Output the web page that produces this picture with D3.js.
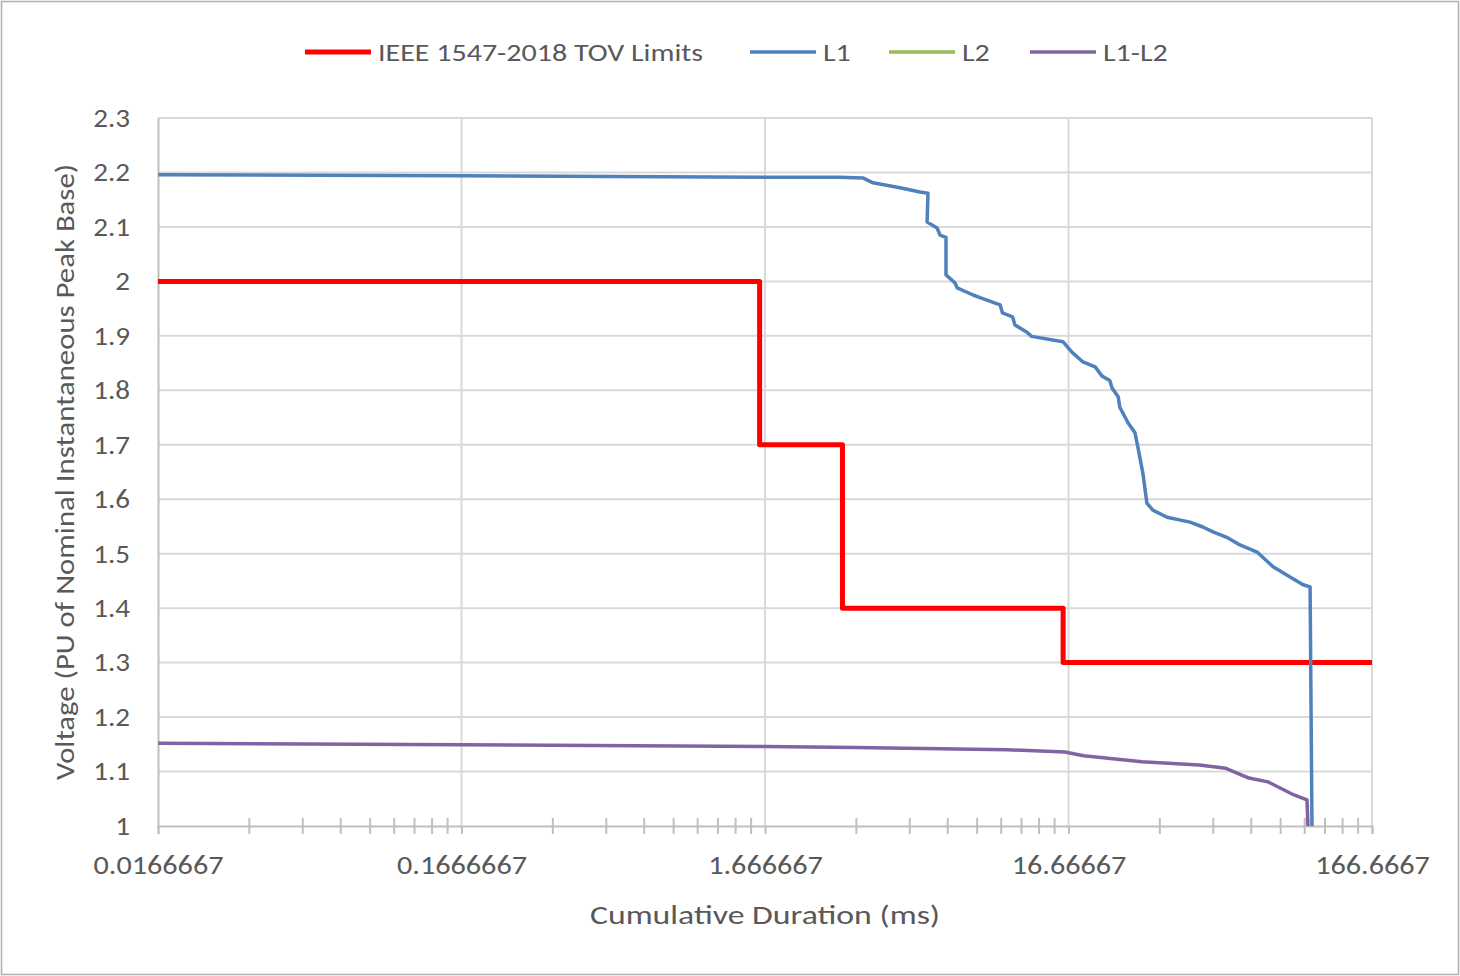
<!DOCTYPE html>
<html>
<head>
<meta charset="utf-8">
<script src="https://cdn.jsdelivr.net/npm/d3@7"></script>
<style>
  html, body { margin: 0; padding: 0; background: #fff; }
  svg text { font-family: Carlito, Lato, "Open Sans", sans-serif; fill: #595959; }
</style>
</head>
<body>
<div id="chart"></div>
<script>
// IEEE 1547-2018 TOV limit steps (ms, pu)
const limitMs = [0.0166667, 1.6, 1.6, 3, 3, 16, 16, 166.6667];
const limitPu = [2.0, 2.0, 1.7, 1.7, 1.4, 1.4, 1.3, 1.3];

// L1 (ms, pu)
const l1Ms = [0.0167, 0.165, 1.667, 2.94, 3.50, 3.78, 4.64, 5.40, 5.74, 5.70, 6.15, 6.29, 6.58, 6.58,
  7.05, 7.16, 8.08, 8.52, 9.92, 10.1, 10.9, 11.1, 12.2, 12.6, 16.0, 17.1, 18.6, 20.4, 21.5, 22.8,
  23.2, 24.3, 24.6, 26.2, 27.6, 28.2, 29.3, 30.2, 31.6, 35.2, 41.9, 46.2, 49.9, 55.9, 61.2, 69.7,
  78.7, 89.5, 98.8, 104.2, 105.7];
const l1Pu = [2.196, 2.194, 2.191, 2.191, 2.190, 2.181, 2.172, 2.164, 2.162, 2.109, 2.098, 2.085, 2.081, 2.012,
  1.997, 1.988, 1.975, 1.970, 1.957, 1.942, 1.935, 1.920, 1.906, 1.899, 1.889, 1.870, 1.852, 1.843, 1.826, 1.818,
  1.804, 1.788, 1.769, 1.740, 1.722, 1.696, 1.648, 1.593, 1.580, 1.567, 1.558, 1.549, 1.540, 1.529, 1.516, 1.503,
  1.476, 1.457, 1.443, 1.439, 1.0];

// L2 has no visible trace in the chart
const l2Ms = [];
const l2Pu = [];

// L1-L2 (ms, pu)
const l12Ms = [0.0167, 0.165, 1.667, 3.30, 10.5, 16.2, 18.7, 29.1, 44.9, 55.0, 65.5, 75.7, 92.2, 101.8, 102.5];
const l12Pu = [1.152, 1.149, 1.146, 1.144, 1.140, 1.136, 1.129, 1.118, 1.112, 1.106, 1.088, 1.081, 1.057, 1.048, 1.0];

const xTicks = [0.0166667, 0.1666667, 1.666667, 16.66667, 166.6667];
const xTickLabels = ['0.0166667', '0.1666667', '1.666667', '16.66667', '166.6667'];
const yTicks = [1, 1.1, 1.2, 1.3, 1.4, 1.5, 1.6, 1.7, 1.8, 1.9, 2, 2.1, 2.2, 2.3];

const seriesNames = ['IEEE 1547-2018 TOV Limits', 'L1', 'L2', 'L1-L2'];
const seriesColors = ['#FF0000', '#4F81BD', '#9BBB59', '#8064A2'];

const width = 1460, height = 976;
const margin = {top: 118, right: 88, bottom: 150, left: 158};

// the source font is a bit wider than what we have, so stretch text sideways
function stretch(sel, s) {
    sel.each(function () {
        const w = this.getComputedTextLength();
        d3.select(this)
            .attr('textLength', w * s)
            .attr('lengthAdjust', 'spacingAndGlyphs');
    });
}

const svg = d3.select('#chart').append('svg')
    .attr('width', width)
    .attr('height', height);

svg.append('rect')
    .attr('x', 1.5).attr('y', 1.5)
    .attr('width', width - 3).attr('height', height - 3)
    .attr('fill', '#fff')
    .attr('stroke', '#B0B0B0')
    .attr('stroke-width', 1.5);

const x = d3.scaleLog()
    .domain([xTicks[0], xTicks[xTicks.length - 1]])
    .range([margin.left, width - margin.right]);
const y = d3.scaleLinear()
    .domain([1, 2.3])
    .range([height - margin.bottom, margin.top]);

// minor ticks: 2..9 times each decade start
let minor = [];
xTicks.slice(0, -1).forEach(b => {
    for (let k = 2; k <= 9; ++k) minor.push(b * k);
});

const grid = svg.append('g').attr('class', 'grid');
grid.selectAll('.hgrid')
    .data(yTicks.slice(1))
    .enter().append('line')
    .attr('x1', x.range()[0]).attr('x2', x.range()[1])
    .attr('y1', d => y(d)).attr('y2', d => y(d))
    .attr('stroke', '#D9D9D9').attr('stroke-width', 2);
grid.selectAll('.vgrid')
    .data(xTicks.slice(1))
    .enter().append('line')
    .attr('x1', d => x(d)).attr('x2', d => x(d))
    .attr('y1', y.range()[0]).attr('y2', y.range()[1])
    .attr('stroke', '#D9D9D9').attr('stroke-width', 2);

// y axis (line + labels, no ticks)
const yAxis = svg.append('g')
    .attr('transform', `translate(${margin.left},0)`)
    .call(d3.axisLeft(y).tickValues(yTicks).tickSize(0).tickPadding(28).tickFormat(d3.format('')));
yAxis.select('.domain').attr('stroke', '#BFBFBF').attr('stroke-width', 2);
yAxis.selectAll('text').style('font-size', '26px').attr('fill', '#595959').call(stretch, 1.12);

// x axis
const xAxis = svg.append('g')
    .attr('transform', `translate(0,${y(1)})`)
    .call(d3.axisBottom(x).tickValues(xTicks).tickSize(8).tickPadding(22)
        .tickFormat((d, i) => xTickLabels[i]));
xAxis.select('.domain').attr('stroke', '#BFBFBF').attr('stroke-width', 2);
xAxis.selectAll('.tick line').attr('stroke', '#BFBFBF').attr('stroke-width', 2);
xAxis.selectAll('text').style('font-size', '26px').attr('fill', '#595959').call(stretch, 1.16);
xAxis.selectAll('.minor')
    .data(minor)
    .enter().append('line')
    .attr('class', 'minor')
    .attr('x1', d => x(d)).attr('x2', d => x(d))
    .attr('y1', -8).attr('y2', 8)
    .attr('stroke', '#BFBFBF').attr('stroke-width', 2);

const line = d3.line()
    .x(d => x(d[0]))
    .y(d => y(d[1]));

const zip = (a, b) => a.map((v, i) => [v, b[i]]);
const series = [
    {data: zip(limitMs, limitPu), color: seriesColors[0], w: 5},
    {data: zip(l1Ms, l1Pu), color: seriesColors[1], w: 3.5},
    {data: zip(l2Ms, l2Pu), color: seriesColors[2], w: 3.5},
    {data: zip(l12Ms, l12Pu), color: seriesColors[3], w: 3.5}
];

svg.append('g').selectAll('path')
    .data(series.filter(s => s.data.length))
    .enter().append('path')
    .attr('d', d => line(d.data))
    .attr('fill', 'none')
    .attr('stroke', d => d.color)
    .attr('stroke-width', d => d.w)
    .attr('stroke-linejoin', 'round');

// legend
const legendX = [305, 750, 889, 1030];
const legend = svg.append('g').selectAll('g')
    .data(seriesNames)
    .enter().append('g')
    .attr('transform', (d, i) => `translate(${legendX[i]},52)`);
legend.append('line')
    .attr('x1', 0).attr('x2', 66)
    .attr('stroke', (d, i) => seriesColors[i])
    .attr('stroke-width', (d, i) => i === 0 ? 5 : 3.5);
legend.append('text')
    .attr('x', 73).attr('dy', '0.35em')
    .style('font-size', '25px')
    .text(d => d)
    .call(stretch, 1.2);

// axis titles
svg.append('text')
    .attr('x', x(1.666667)).attr('y', 924)
    .attr('text-anchor', 'middle')
    .style('font-size', '27px')
    .text('Cumulative Duration (ms)')
    .call(stretch, 1.25);
svg.append('text')
    .attr('transform', `translate(74,${(y(1) + y(2.3)) / 2}) rotate(-90)`)
    .attr('text-anchor', 'middle')
    .style('font-size', '27px')
    .text('Voltage (PU of Nominal Instantaneous Peak Base)')
    .call(stretch, 1.14);
</script>
</body>
</html>
